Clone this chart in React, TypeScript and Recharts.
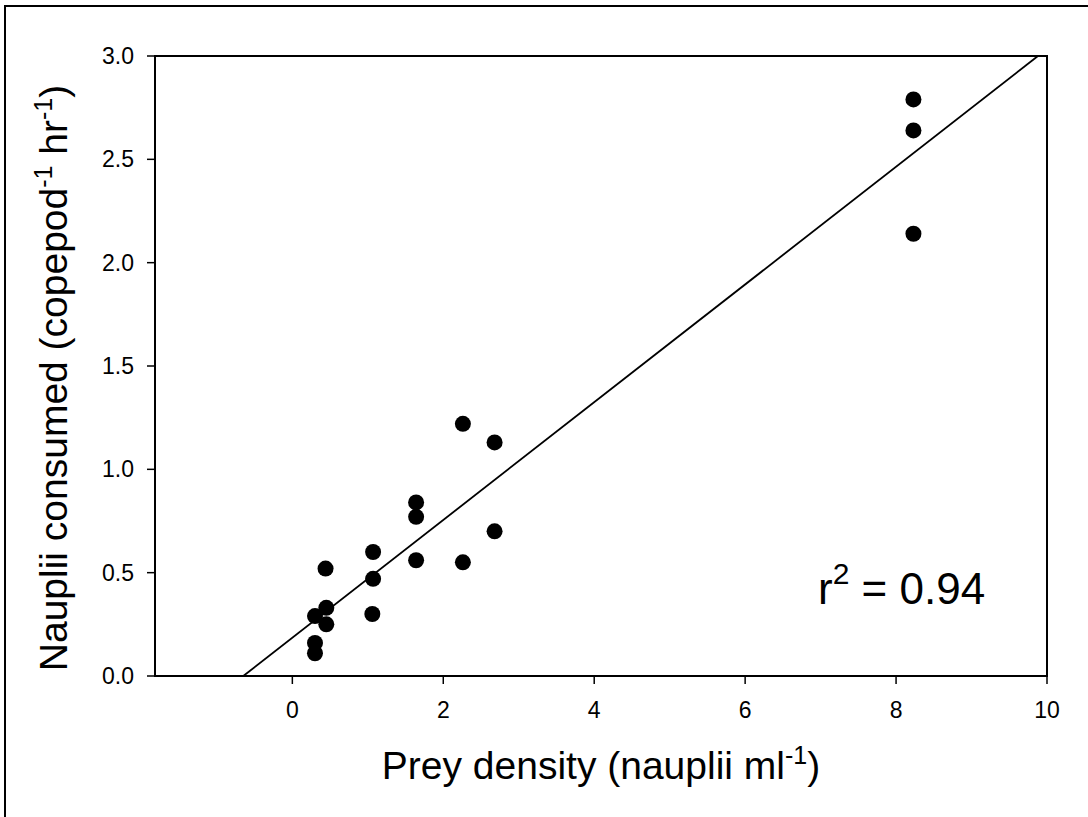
import { ScatterChart, Scatter, XAxis, YAxis, ReferenceLine, ReferenceArea, Label } from "recharts";

// prey density (nauplii/ml) vs nauplii consumed per copepod per hour
const preyDensity = [0.3, 0.3, 0.3, 0.44, 0.45, 0.45, 1.06, 1.07, 1.07, 1.64, 1.64, 1.64, 2.26, 2.26, 2.68, 2.68, 8.23, 8.23, 8.23];
const consumed = [0.11, 0.16, 0.29, 0.52, 0.33, 0.25, 0.3, 0.47, 0.6, 0.56, 0.77, 0.84, 0.55, 1.22, 0.7, 1.13, 2.14, 2.64, 2.79];

// regression line end points
const fitX = [-0.65, 9.88];
const fitY = [0, 3.0];

const xTicks = [0, 2, 4, 6, 8, 10];
const yTicks = [0, 0.5, 1.0, 1.5, 2.0, 2.5, 3.0];
const xDomain = [-1.82, 10];
const yDomain = [0, 3];

const points = preyDensity.map((x, i) => ({ x, y: consumed[i] }));
const font = "'Liberation Sans', Arial, sans-serif";

const XTick = (p: any) => (
  <text x={p.x} y={p.y + 32} textAnchor="middle" fontSize={23} fontFamily={font} fill="#000">
    {p.payload.value}
  </text>
);

const YTick = (p: any) => (
  <text x={p.x - 11} y={p.y + 8} textAnchor="end" fontSize={23} fontFamily={font} fill="#000">
    {Number(p.payload.value).toFixed(1)}
  </text>
);

const XTitle = (props: any) => {
  const vb = props.viewBox;
  const cx = vb.x + vb.width / 2;
  return (
    <text x={cx} y={779} textAnchor="middle" fontSize={39} fontFamily={font} fill="#000">
      Prey density (nauplii ml
      <tspan dy={-15} fontSize={25}>-1</tspan>
      <tspan dy={15}>)</tspan>
    </text>
  );
};

const YTitle = (props: any) => {
  const vb = props.viewBox;
  const cy = vb.y + vb.height / 2 + 12;
  return (
    <text
      x={0}
      y={0}
      transform={`translate(67, ${cy}) rotate(-90)`}
      textAnchor="middle"
      fontSize={39}
      fontFamily={font}
      fill="#000"
    >
      Nauplii consumed (copepod
      <tspan dy={-15} fontSize={25}>-1</tspan>
      <tspan dy={15}> hr</tspan>
      <tspan dy={-15} fontSize={25}>-1</tspan>
      <tspan dy={15}>)</tspan>
    </text>
  );
};

export default function App() {
  return (
    <div style={{ position: "absolute", left: 0, top: 0, width: 1088, height: 817, background: "#fff" }}>
      <div
        style={{
          position: "absolute",
          left: 4,
          top: 5,
          width: 1084,
          height: 812,
          borderLeft: "2px solid #000",
          borderTop: "2px solid #000",
        }}
      />
      <ScatterChart width={1088} height={817} margin={{ top: 56, right: 41, bottom: 81, left: 55 }}>
        <XAxis
          type="number"
          dataKey="x"
          domain={xDomain}
          ticks={xTicks}
          allowDataOverflow
          height={60}
          tickSize={8}
          axisLine={{ stroke: "#000", strokeWidth: 2 }}
          tickLine={{ stroke: "#000", strokeWidth: 1.5 }}
          tick={<XTick />}
        >
          <Label content={<XTitle />} />
        </XAxis>
        <YAxis
          type="number"
          dataKey="y"
          domain={yDomain}
          ticks={yTicks}
          allowDataOverflow
          width={100}
          tickSize={8}
          axisLine={{ stroke: "#000", strokeWidth: 2 }}
          tickLine={{ stroke: "#000", strokeWidth: 1.5 }}
          tick={<YTick />}
        >
          <Label content={<YTitle />} />
        </YAxis>
        <ReferenceArea
          x1={xDomain[0]}
          x2={xDomain[1]}
          y1={yDomain[0]}
          y2={yDomain[1]}
          fill="none"
          stroke="#000"
          strokeWidth={2}
        />
        <ReferenceLine
          segment={[
            { x: fitX[0], y: fitY[0] },
            { x: fitX[1], y: fitY[1] },
          ]}
          stroke="#000"
          strokeWidth={1.8}
        />
        <Scatter
          data={points}
          fill="#000"
          isAnimationActive={false}
          shape={(p: any) => <circle cx={p.cx} cy={p.cy} r={8} fill="#000" />}
        />
      </ScatterChart>
      <svg style={{ position: "absolute", left: 0, top: 0 }} width={1088} height={817} pointerEvents="none">
        <text x={818} y={604} fontSize={44} fontFamily={font} fill="#000">
          r<tspan dy={-20} fontSize={30}>2</tspan>
          <tspan dy={20}> = 0.94</tspan>
        </text>
      </svg>
    </div>
  );
}
